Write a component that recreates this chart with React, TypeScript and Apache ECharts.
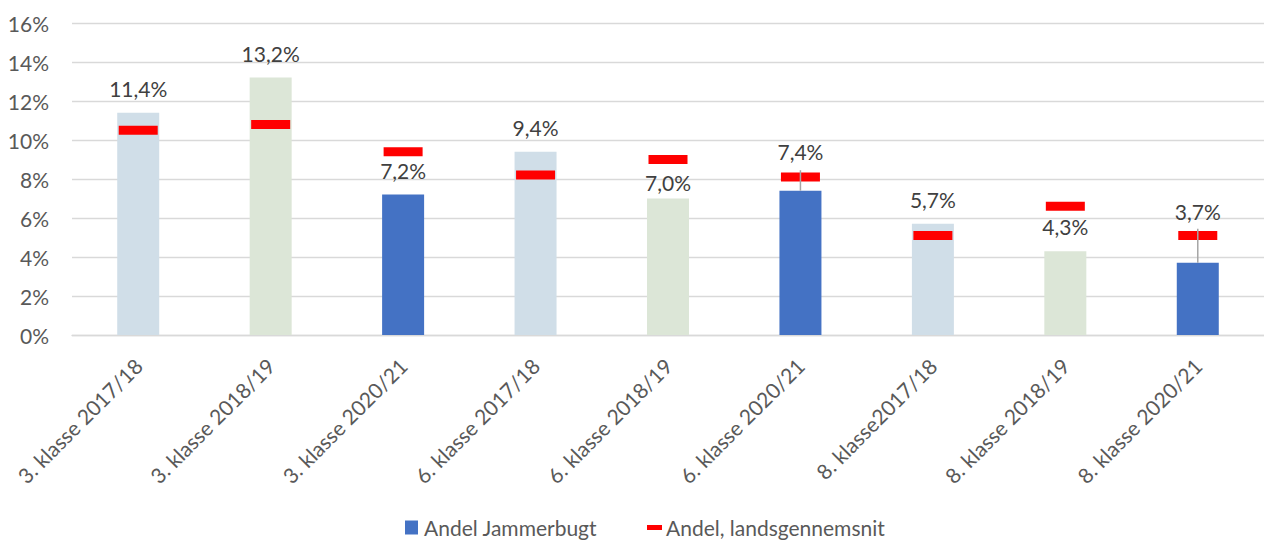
import React, { useEffect, useRef } from "react";
import * as echarts from "echarts";

const categories = [
  "3. klasse 2017/18",
  "3. klasse 2018/19",
  "3. klasse 2020/21",
  "6. klasse 2017/18",
  "6. klasse 2018/19",
  "6. klasse 2020/21",
  "8. klasse2017/18",
  "8. klasse 2018/19",
  "8. klasse 2020/21",
];
const andelJammerbugt = [11.4, 13.2, 7.2, 9.4, 7.0, 7.4, 5.7, 4.3, 3.7];
const andelLandsgennemsnit = [10.5, 10.8, 9.4, 8.2, 9.0, 8.1, 5.1, 6.6, 5.1];
const errorBarTop: (number | null)[] = [null, null, null, null, null, 8.45, null, null, 5.45];
const yTicks = [0, 2, 4, 6, 8, 10, 12, 14, 16];

const FONT = "Lato";
const TEXT = "#595959";
const barColors = ["#D0DEE8", "#DCE6D7", "#4472C4"];
const labelDistanceOverride: Record<number, number> = { 4: 6, 5: 29, 8: 41 };

const fmt = (v: number) => v.toFixed(1).replace(".", ",") + "%";

export default function App() {
  const ref = useRef<HTMLDivElement>(null);
  useEffect(() => {
    if (!ref.current) return;
    const chart = echarts.init(ref.current, undefined, { renderer: "svg" });
    const errData = errorBarTop
      .map((t, i) => (t == null ? null : [i, andelJammerbugt[i], t]))
      .filter((d) => d != null);
    chart.setOption({
      animation: false,
      textStyle: { fontFamily: FONT },
      grid: { left: 72, right: -12, top: 23, bottom: 207, containLabel: false },
      legend: [
        {
          data: [{ name: "Andel Jammerbugt", icon: "rect" }],
          left: 405,
          top: 517,
          padding: 0,
          itemWidth: 13,
          itemHeight: 14,
          itemGap: 6,
          textStyle: { color: TEXT, fontSize: 21, fontFamily: FONT, padding: [0, 0, 0, 1] },
        },
        {
          data: [{ name: "Andel, landsgennemsnit", icon: "rect" }],
          left: 647,
          top: 517,
          padding: 0,
          itemWidth: 15,
          itemHeight: 5,
          textStyle: { color: TEXT, fontSize: 21, fontFamily: FONT, padding: [0, 0, 0, -1] },
        },
      ],
      xAxis: {
        type: "category",
        data: categories,
        axisTick: { show: false },
        axisLine: { lineStyle: { color: "#D9D9D9", width: 1.3 } },
        axisLabel: {
          interval: 0,
          rotate: 45,
          margin: 27,
          color: TEXT,
          fontSize: 21,
          fontFamily: FONT,
        },
      },
      yAxis: {
        type: "value",
        min: 0,
        max: 16,
        interval: 2,
        axisLine: { show: false },
        axisTick: { show: false },
        splitLine: { lineStyle: { color: "#D9D9D9", width: 1.3 } },
        axisLabel: {
          margin: 23,
          color: TEXT,
          fontSize: 21,
          fontFamily: FONT,
          formatter: (v: number) => (yTicks.includes(v) ? v + "%" : ""),
        },
      },
      series: [
        {
          name: "Andel Jammerbugt",
          type: "bar",
          barWidth: 42,
          itemStyle: { color: "#4472C4" },
          data: andelJammerbugt.map((v, i) => ({
            value: v,
            itemStyle: { color: barColors[i % 3] },
            label: {
              show: true,
              position: "top",
              distance: labelDistanceOverride[i] ?? 14,
            },
          })),
          label: {
            show: true,
            position: "top",
            color: "#404040",
            fontSize: 21,
            fontFamily: FONT,
            formatter: (p: any) => fmt(p.value),
          },
          z: 2,
        },
        {
          name: "Andel, landsgennemsnit",
          type: "scatter",
          symbol: "rect",
          symbolSize: [39, 9],
          itemStyle: { color: "#FF0000", opacity: 1 },
          data: andelLandsgennemsnit,
          z: 3,
        },
        {
          name: "fejl",
          type: "custom",
          data: errData,
          encode: { x: 0, y: [1, 2] },
          z: 4,
          silent: true,
          renderItem: (params: any, api: any) => {
            const x = api.value(0);
            const p1 = api.coord([x, api.value(1)]);
            const p2 = api.coord([x, api.value(2)]);
            return {
              type: "line",
              shape: { x1: p1[0], y1: p1[1], x2: p2[0], y2: p2[1] },
              style: { stroke: "#A5A5A5", lineWidth: 1.5 },
            };
          },
        },
      ],
    });
    return () => chart.dispose();
  }, []);
  return (
    <div
      ref={ref}
      style={{ position: "absolute", left: 0, top: 0, width: 1264, height: 542, background: "#fff" }}
    />
  );
}
